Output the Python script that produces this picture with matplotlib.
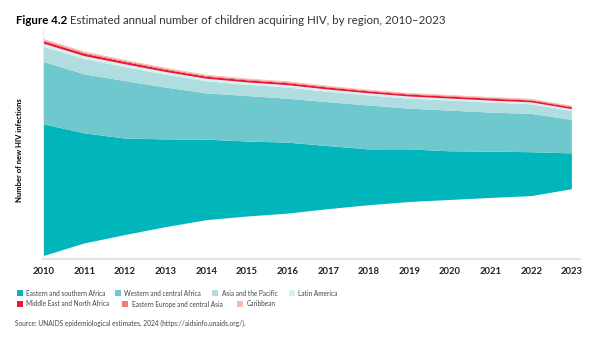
import numpy as np
import matplotlib.pyplot as plt
from matplotlib.patches import Rectangle

# Estimated new HIV infections among children (thousands)
years = np.arange(2010, 2024)
esa = [165, 138, 121, 110, 101, 94, 89, 79, 70, 66, 61, 58, 55, 45]
wca = [78, 74, 72, 65, 58, 57, 55, 55, 55, 51, 51, 49, 48, 42]
asia_pac = [19, 19, 17.5, 16, 15, 14, 14, 13, 12.5, 12.5, 12.5, 12.5, 12, 11]
latam = [4, 3.8, 3.6, 3.5, 3.3, 3.1, 3.0, 2.9, 2.8, 2.7, 2.6, 2.5, 2.5, 2.4]
mena = [3.0, 2.9, 2.8, 2.7, 2.6, 2.6, 2.5, 2.5, 2.4, 2.4, 2.4, 2.4, 2.3, 2.3]
eeca = [1.3, 1.3, 1.2, 1.2, 1.1, 1.1, 1.1, 1.0, 1.0, 1.0, 1.0, 1.0, 1.0, 1.0]
carib = [1.6, 1.5, 1.4, 1.3, 1.2, 1.2, 1.1, 1.1, 1.0, 1.0, 1.0, 1.0, 1.0, 1.0]

labels = ["Eastern and southern Africa", "Western and central Africa",
          "Asia and the Pacific", "Latin America",
          "Middle East and North Africa", "Eastern Europe and central Asia",
          "Caribbean"]
colors = ["#00b6bb", "#6fc8cd", "#afdde0", "#d6eef0",
          "#e8163b", "#f07f72", "#f8bcae"]

plt.rcParams['font.family'] = ['Lato', 'DejaVu Sans']

fig = plt.figure(figsize=(6, 3.39), dpi=100)
ax = fig.add_axes([43/600, 1-259/339, 537/600, 229/339])

series = [esa, wca, asia_pac, latam, mena, eeca, carib]
ax.stackplot(years, *series, baseline='sym', colors=colors, lw=0)

total = np.sum(np.array(series), axis=0)
s = total[0] / 217.0   # data units per pixel
lo = -total[0] / 2 - 3 * s
ax.set_ylim(lo, lo + 229 * s)
ax.set_xlim(2009.98, 2023.2)

ax.set_yticks([])
ax.set_xticks(years)
ax.set_xticklabels([str(y) for y in years], fontsize=6.8, fontweight='bold',
                   color='#222222')
ax.tick_params(axis='x', length=0, pad=6)
for sp in ['top', 'right']:
    ax.spines[sp].set_visible(False)
ax.spines['bottom'].set_color('#e4e4e4')
ax.spines['bottom'].set_linewidth(1.5)
ax.spines['left'].set_color('#e8e8e8')
ax.spines['left'].set_linewidth(0.8)

fig.text(20/600, 1-150/339, "Number of new HIV infections", rotation=90,
         fontsize=5.5, fontweight='bold', ha='center', va='center')

# title
t1 = fig.text(16/600, 1-20/339, "Figure 4.2", fontsize=8.3, fontweight='bold',
              va='center')
fig.canvas.draw()
bb = t1.get_window_extent()
fig.text(bb.x1/600 + 3/600, 1-20/339,
         "Estimated annual number of children acquiring HIV, by region, 2010\u20132023",
         fontsize=8.3, va='center', color='#333333')

# legend
pos = [(17, 293), (115, 293), (212, 293), (289, 293),
       (17, 304), (122, 304), (237, 304)]
for (px, py), lab, c in zip(pos, labels, colors):
    fig.patches.append(Rectangle((px/600, 1-(py+3)/339), 6/600, 6/339,
                                 transform=fig.transFigure, color=c, lw=0))
    fig.text((px+9.5)/600, 1-py/339, lab, fontsize=4.7, color='#444444',
             va='center')

fig.text(15/600, 1-323/339,
         "Source: UNAIDS epidemiological estimates, 2024 (https://aidsinfo.unaids.org/).",
         fontsize=4.8, color='#444444', va='center')

fig.savefig("out.png", dpi=100)
